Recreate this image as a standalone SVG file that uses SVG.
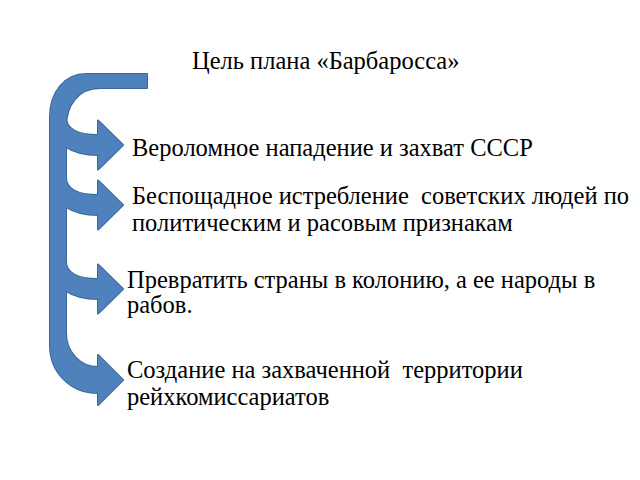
<svg xmlns="http://www.w3.org/2000/svg" xmlns:xlink="http://www.w3.org/1999/xlink" width="640" height="480" viewBox="0 0 640 480">
<style>
  .t { font-family: 'Liberation Serif', 'DejaVu Serif', serif; font-size: 24.5px; fill: #000; white-space: pre; }
  .edge { fill: none; stroke: #3b679a; stroke-width: 2; stroke-linejoin: round; }
  .body { fill: #4f81bd; stroke: none; }
</style>
<defs>
  <path id="main" d="M 147 74 L 86 74 C 65 74 50 92 50 117 L 50 345 C 50 372 70 393 98 393 L 98 405 L 123 380 L 98 355 L 98 367 C 80 367 66 352 66 333 L 66 127 C 66 105 78 88 100 88 L 147 88 Z"/>
  <path id="arr" d="M 58 -27 L 66 -27 C 66 -17 76 -10 98 -10 L 98 -24.5 L 123 0 L 98 24.5 L 98 10 C 84 10 72 6 66 2 L 58 2 Z"/>
</defs>
<rect width="640" height="480" fill="#fff"/>
<g id="connectors">
  <use xlink:href="#arr" class="edge" transform="translate(0,145)"/>
  <use xlink:href="#arr" class="edge" transform="translate(0,205)"/>
  <use xlink:href="#arr" class="edge" transform="translate(0,289)"/>
  <use xlink:href="#main" class="edge"/>
  <use xlink:href="#arr" class="body" transform="translate(0,145)"/>
  <use xlink:href="#arr" class="body" transform="translate(0,205)"/>
  <use xlink:href="#arr" class="body" transform="translate(0,289)"/>
  <use xlink:href="#main" class="body"/>
</g>
<g id="title"><text class="t" x="192" y="69">Цель плана «Барбаросса»</text></g>
<g id="node1"><text class="t" x="132" y="156">Вероломное нападение и захват СССР</text></g>
<g id="node2"><text class="t" x="132" y="204" xml:space="preserve">Беспощадное истребление  советских людей по</text><text class="t" x="132" y="231">политическим и расовым признакам</text></g>
<g id="node3"><text class="t" x="127" y="288">Превратить страны в колонию, а ее народы в</text><text class="t" x="127" y="313">рабов.</text></g>
<g id="node4"><text class="t" x="127" y="378" xml:space="preserve">Создание на захваченной  территории</text><text class="t" x="127" y="405">рейхкомиссариатов</text></g>
</svg>
